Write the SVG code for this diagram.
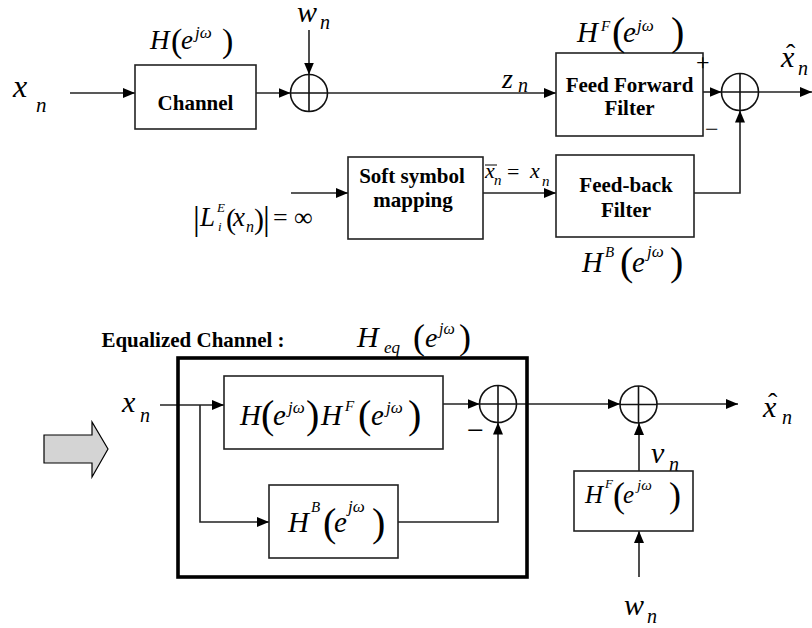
<svg xmlns="http://www.w3.org/2000/svg" width="812" height="628" viewBox="0 0 812 628">
<style>
.bx{fill:#fff;stroke:#222;stroke-width:1.6}
.thk{fill:none;stroke:#000;stroke-width:3.6}
.ln{fill:none;stroke:#222;stroke-width:1.6}
.c{fill:none;stroke:#111;stroke-width:1.6}
.m{font-family:"Liberation Serif","Times New Roman",serif;font-style:italic;fill:#000}
.r{font-style:normal}
.b{font-family:"Liberation Serif","Times New Roman",serif;font-weight:bold;font-size:21px;text-anchor:middle;fill:#000}
</style>
<defs>
<marker id="ah" viewBox="0 0 12 10" refX="12" refY="5" markerWidth="12" markerHeight="10" markerUnits="userSpaceOnUse" orient="auto"><path d="M0,0 L12,5 L0,10 z" fill="#000"/></marker>
</defs>
<rect width="812" height="628" fill="#fff"/>

<g id="connectors" class="ln" marker-end="url(#ah)">
<path d="M70,93 H135"/>
<path d="M256,93 H290.5"/>
<path d="M309,30 V74.5"/>
<path d="M327.5,93 H556"/>
<path d="M703,92 H721.5"/>
<path d="M758.5,92 H812"/>
<path d="M694,193 H740 V110.5"/>
<path d="M291,193 H348"/>
<path d="M483,193 H556"/>
<path d="M160,405 H224"/>
<path d="M200,405 V522 H269"/>
<path d="M443,404 H479.5"/>
<path d="M398,522 H498 V422.5"/>
<path d="M516.5,404 H620"/>
<path d="M657,404 H738"/>
<path d="M639,471 V423"/>
<path d="M639,577 V531"/>
</g>

<g id="x_in">
<text class="m" font-size="32" x="13" y="97">x</text>
<text class="m" font-size="21" x="36" y="112">n</text>
</g>

<g id="channel">
<rect class="bx" x="135" y="65" width="121" height="64"/>
<text class="b" x="195.5" y="110">Channel</text>
<text class="m" font-size="27" x="150" y="49">H</text>
<text class="m r" font-size="34" x="171" y="52">(</text>
<text class="m" font-size="27" x="181" y="49">e</text>
<text class="m" font-size="17" x="195" y="38">jω</text>
<text class="m r" font-size="34" x="222" y="52">)</text>
</g>

<g id="w_top">
<text class="m" font-size="30" x="297" y="22">w</text>
<text class="m" font-size="20" x="320" y="29">n</text>
</g>

<g id="sum1">
<circle class="c" cx="309" cy="93" r="18.5"/>
<path class="c" d="M290.5,93 H327.5 M309,74.5 V111.5"/>
</g>

<g id="z_n">
<text class="m" font-size="28" x="502" y="88">z</text>
<text class="m" font-size="20" x="518" y="92">n</text>
</g>

<g id="ffw">
<rect class="bx" x="556" y="53" width="147" height="83"/>
<text class="b" x="629.5" y="92">Feed Forward</text>
<text class="b" x="629.5" y="115">Filter</text>
<text class="m" font-size="29" x="577" y="42">H</text>
<text class="m" font-size="15" x="601" y="31">F</text>
<text class="m r" font-size="40" x="612" y="45">(</text>
<text class="m" font-size="29" x="623" y="42">e</text>
<text class="m" font-size="17" x="637" y="31">jω</text>
<text class="m r" font-size="40" x="671" y="45">)</text>
<text class="m r" font-size="24" x="696" y="70">+</text>
<text class="m r" font-size="24" x="705" y="137">−</text>
</g>

<g id="sum2">
<circle class="c" cx="740" cy="92" r="18.5"/>
<path class="c" d="M721.5,92 H758.5 M740,73.5 V110.5"/>
</g>

<g id="xhat_top">
<text class="m" font-size="30" x="781" y="67">x</text>
<text class="m r" font-size="28" x="786" y="63">ˆ</text>
<text class="m" font-size="20" x="798" y="75">n</text>
</g>

<g id="llr">
<text class="m r" font-size="34" x="193" y="230">|</text>
<text class="m" font-size="27" x="200" y="226">L</text>
<text class="m" font-size="13" x="217" y="212">E</text>
<text class="m" font-size="13" x="218" y="231">i</text>
<text class="m r" font-size="30" x="226" y="229">(</text>
<text class="m" font-size="27" x="233" y="226">x</text>
<text class="m" font-size="16" x="246" y="232">n</text>
<text class="m r" font-size="30" x="254" y="229">)</text>
<text class="m r" font-size="34" x="263" y="230">|</text>
<text class="m r" font-size="26" x="273" y="226">=</text>
<text class="m r" font-size="26" x="294" y="226">∞</text>
</g>

<g id="soft">
<rect class="bx" x="348" y="157" width="135" height="82"/>
<text class="b" x="412" y="183">Soft symbol</text>
<text class="b" x="413" y="207">mapping</text>
</g>

<g id="xbar">
<text class="m" font-size="22" x="485" y="178">x</text>
<line x1="485" y1="165" x2="497" y2="165" stroke="#000" stroke-width="1"/>
<text class="m" font-size="15" x="494" y="185">n</text>
<text class="m r" font-size="22" x="507" y="179">=</text>
<text class="m" font-size="22" x="530" y="178">x</text>
<text class="m" font-size="15" x="542" y="186">n</text>
</g>

<g id="fbk">
<rect class="bx" x="556" y="155" width="138" height="82"/>
<text class="b" x="626" y="192">Feed-back</text>
<text class="b" x="626" y="217">Filter</text>
<text class="m" font-size="29" x="582" y="272">H</text>
<text class="m" font-size="15" x="605" y="257">B</text>
<text class="m r" font-size="40" x="620" y="275">(</text>
<text class="m" font-size="29" x="632" y="272">e</text>
<text class="m" font-size="17" x="647" y="257">jω</text>
<text class="m r" font-size="40" x="670" y="275">)</text>
</g>

<g id="bigarrow">
<path d="M44,435 H92 V422 L108,449 L92,477 V463 H44 Z" fill="#d4d4d4" stroke="#000" stroke-width="1.2"/>
</g>

<g id="eqchannel">
<rect class="thk" x="178" y="358" width="349" height="219"/>
<text class="b" x="193" y="347" font-size="18.5" text-anchor="start">Equalized Channel :</text>
<text class="m" font-size="30" x="357" y="347">H</text>
<text class="m" font-size="17" x="384" y="353">eq</text>
<text class="m r" font-size="36" x="413" y="349">(</text>
<text class="m" font-size="28" x="425" y="347">e</text>
<text class="m" font-size="16" x="439" y="334">jω</text>
<text class="m r" font-size="36" x="459" y="349">)</text>
</g>

<g id="x_in2">
<text class="m" font-size="30" x="122" y="412">x</text>
<text class="m" font-size="20" x="140" y="422">n</text>
</g>

<g id="hhf">
<rect class="bx" x="224" y="376" width="219" height="73"/>
<text class="m" font-size="29" x="240" y="425">H</text>
<text class="m r" font-size="40" x="261" y="428">(</text>
<text class="m" font-size="29" x="273" y="425">e</text>
<text class="m" font-size="17" x="288" y="413">jω</text>
<text class="m r" font-size="40" x="306" y="428">)</text>
<text class="m" font-size="29" x="321" y="425">H</text>
<text class="m" font-size="15" x="345" y="411">F</text>
<text class="m r" font-size="40" x="358" y="428">(</text>
<text class="m" font-size="29" x="371" y="425">e</text>
<text class="m" font-size="17" x="386" y="413">jω</text>
<text class="m r" font-size="40" x="408" y="428">)</text>
</g>

<g id="hb">
<rect class="bx" x="269" y="485" width="129" height="73"/>
<text class="m" font-size="29" x="288" y="532">H</text>
<text class="m" font-size="15" x="311" y="512">B</text>
<text class="m r" font-size="40" x="323" y="536">(</text>
<text class="m" font-size="29" x="334" y="532">e</text>
<text class="m" font-size="17" x="348" y="512">jω</text>
<text class="m r" font-size="40" x="372" y="536">)</text>
</g>

<g id="sum3">
<circle class="c" cx="498" cy="404" r="18.5"/>
<path class="c" d="M479.5,404 H516.5 M498,385.5 V422.5"/>
<text class="m r" font-size="30" x="467" y="440">−</text>
</g>

<g id="sum4">
<circle class="c" cx="638.5" cy="404.5" r="18.5"/>
<path class="c" d="M620,404.5 H657 M638.5,386 V423"/>
</g>

<g id="xhat_bot">
<text class="m" font-size="30" x="763" y="417">x</text>
<text class="m r" font-size="28" x="768" y="412">ˆ</text>
<text class="m" font-size="20" x="782" y="424">n</text>
</g>

<g id="v_n">
<text class="m" font-size="30" x="651" y="463">v</text>
<text class="m" font-size="20" x="669" y="471">n</text>
</g>

<g id="hf2">
<rect class="bx" x="574" y="471" width="119" height="60"/>
<text class="m" font-size="25" x="585" y="503">H</text>
<text class="m" font-size="13" x="605" y="488">F</text>
<text class="m r" font-size="36" x="613" y="507">(</text>
<text class="m" font-size="25" x="623" y="503">e</text>
<text class="m" font-size="15" x="637" y="490">jω</text>
<text class="m r" font-size="36" x="669" y="507">)</text>
</g>

<g id="w_bot">
<text class="m" font-size="30" x="624" y="615">w</text>
<text class="m" font-size="20" x="647" y="623">n</text>
</g>
</svg>
